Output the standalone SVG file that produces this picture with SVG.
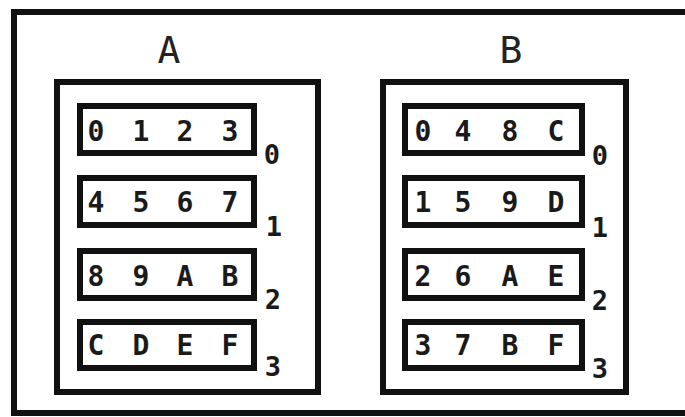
<svg xmlns="http://www.w3.org/2000/svg" width="685" height="417" viewBox="0 0 685 417">
<style>
.frame{fill:none;stroke:#111;stroke-width:6}
.box{fill:none;stroke:#111;stroke-width:6}
.row{fill:none;stroke:#111;stroke-width:6}
.title{font-family:"DejaVu Sans Mono","Liberation Mono",monospace;font-size:38px;fill:#222;text-anchor:middle}
.dig{font-family:"DejaVu Sans Mono","Liberation Mono",monospace;font-size:28px;font-weight:bold;fill:#1a1a1a;text-anchor:middle}
.lbl{font-family:"DejaVu Sans Mono","Liberation Mono",monospace;font-size:27px;font-weight:bold;fill:#1a1a1a;text-anchor:middle}
</style>
<rect width="685" height="417" fill="#fff"/>
<rect class="frame" x="14" y="12" width="680" height="401"/>
<g id="A">
<text class="title" x="169" y="63">A</text>
<rect class="box" x="57" y="82" width="261" height="310"/>
<g id="A0"><rect class="row" x="80" y="106" width="174" height="47"/><text class="dig" x="96 141 185 230" y="141">0123</text><text class="lbl" x="272" y="164">0</text></g>
<g id="A1"><rect class="row" x="80" y="178" width="174" height="47"/><text class="dig" x="96 141 185 230" y="212">4567</text><text class="lbl" x="274" y="236">1</text></g>
<g id="A2"><rect class="row" x="80" y="251" width="174" height="47"/><text class="dig" x="96 141 185 230" y="286">89AB</text><text class="lbl" x="273" y="309">2</text></g>
<g id="A3"><rect class="row" x="80" y="322" width="174" height="46"/><text class="dig" x="96 141 185 230" y="355">CDEF</text><text class="lbl" x="273" y="376">3</text></g>
</g>
<g id="B">
<text class="title" x="511" y="63">B</text>
<rect class="box" x="383" y="82" width="243" height="310"/>
<g id="B0"><rect class="row" x="405" y="106" width="177" height="47"/><text class="dig" x="423 463 510 556" y="141">048C</text><text class="lbl" x="600" y="165">0</text></g>
<g id="B1"><rect class="row" x="405" y="178" width="177" height="47"/><text class="dig" x="423 463 510 556" y="212">159D</text><text class="lbl" x="600" y="237">1</text></g>
<g id="B2"><rect class="row" x="405" y="251" width="177" height="47"/><text class="dig" x="423 463 510 556" y="286">26AE</text><text class="lbl" x="600" y="310">2</text></g>
<g id="B3"><rect class="row" x="405" y="322" width="177" height="46"/><text class="dig" x="423 463 510 556" y="355">37BF</text><text class="lbl" x="600" y="378">3</text></g>
</g>
<g id="connectors"></g>
</svg>
